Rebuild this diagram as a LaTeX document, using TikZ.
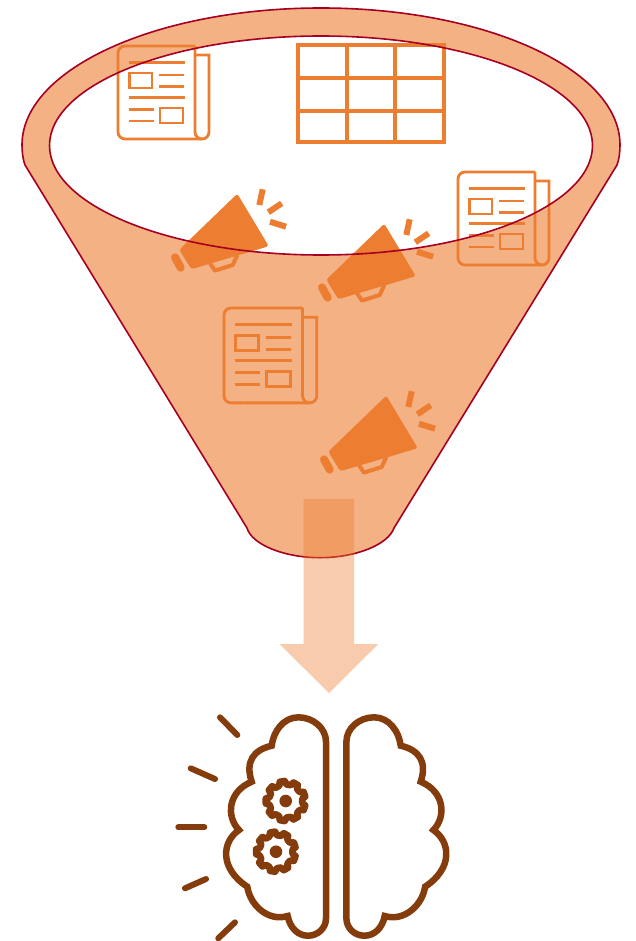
\documentclass[tikz,border=0pt]{standalone}
\usepackage{xcolor}
\definecolor{FunnelFill}{HTML}{F4B183}
\definecolor{FunnelLine}{HTML}{A50021}
\definecolor{Icon}{HTML}{ED7D31}
\definecolor{Brain}{HTML}{843C0C}
\tikzset{
  iconline/.style={draw=Icon,line width=2.8pt},
  brainline/.style={draw=Brain,line width=6.5pt,line cap=round},
  rayline/.style={Icon,line width=6pt},
  newspaper/.pic={
    \draw[iconline,rounded corners=7pt] (77,0) -- (0,0) -- (0,93) -- (20,93);
    \draw[iconline] (20,93) -- (84,93) arc[start angle=-90,end angle=0,radius=7pt] -- (91,9) -- (77,9);
    \draw[iconline] (77,0) -- (77,86) arc[start angle=180,end angle=270,radius=7pt];
    \draw[iconline] (10.5,16.5) -- (66.5,16.5);
    \draw[iconline] (11.5,27) rectangle (34,42);
    \draw[iconline] (41,29) -- (66,29);
    \draw[iconline] (41,40.7) -- (66,40.7);
    \draw[iconline] (10.5,51.5) -- (66.5,51.5);
    \draw[iconline] (10.5,63.5) -- (35.5,63.5);
    \draw[iconline] (10.5,75) -- (35.5,75);
    \draw[iconline] (42,62) rectangle (65,77);
  },
  megaphone/.pic={
    \fill[Icon,rounded corners=2.5pt] (0,-2) -- (31.5,50.5) -- (-46,73.5) -- (-58,54) -- cycle;
    \draw[Icon,line width=8pt,line cap=round] (-62.3,61.6) -- (-56.6,72);
    \draw[Icon,line width=4pt,line join=round] (-27.3,67.6) -- (-22.3,74.9) -- (-4.6,69.3) -- (0,59.3);
    \draw[rayline] (25.4,-6.4) -- (22,9.3);
    \draw[rayline] (44.4,7.6) -- (31,16.6);
    \draw[rayline] (32.7,26) -- (48.7,31);
  },
  gear/.pic={
    \fill[Brain] (0,0) circle (6.3pt);
    \draw[draw=Brain,line width=6.8pt,line join=round]
      (0:16.6pt)
      \foreach \a in {0,40,...,320} {
        -- (\a+7:16.6pt) -- (\a+13:20pt) -- (\a+27:20pt) -- (\a+33:16.6pt)
      } -- cycle;
  },
  brainhalf/.pic={
    \draw[brainline,line join=miter]
      (326,741.7) -- (326,918.3)
      .. controls (326,928) and (318,935.7) .. (308,935.7)
      .. controls (298,935.7) and (290,928) .. (287.7,916)
      .. controls (268,922) and (250,905) .. (247.3,886.7)
      .. controls (219,868) and (222,841.7) .. (239,830)
      .. controls (226,816.7) and (227.7,791.7) .. (251.7,781.7)
      .. controls (245,761.7) and (253.3,750) .. (271.7,745.7)
      .. controls (273.3,731.7) and (283.3,717.3) .. (298.3,717.3)
      .. controls (313.3,717.3) and (326,728.3) .. (326,741.7);
  },
}
\begin{document}
\begin{tikzpicture}[x=1pt,y=-1pt]
\useasboundingbox (0,0) rectangle (636,941);
% funnel body with open mouth
\fill[FunnelFill,even odd rule]
  (22,145) .. controls (22,69.3) and (156,8) .. (321,8)
  .. controls (486,8) and (620,69.3) .. (620,145)
  .. controls (620,152) and (619,160) .. (617,165)
  -- (394,528) .. controls (388,545) and (355,557.7) .. (320,557.7)
  .. controls (285,557.7) and (252,545) .. (247,528)
  -- (25,165) .. controls (23,160) and (22,152) .. (22,145) -- cycle
  (321,145.5) ellipse [x radius=271.5pt,y radius=109.5pt];
% icons
\pic at (118,46) {newspaper};
\pic at (458,172) {newspaper};
\pic[scale=1.02] at (224,308) {newspaper};
\draw[Icon,line width=3.5pt] (298,45) rectangle (444,142);
\draw[Icon,line width=3.5pt] (347,45) -- (347,142);
\draw[Icon,line width=3.5pt] (395,45) -- (395,142);
\draw[Icon,line width=3.5pt] (298,78) -- (444,78);
\draw[Icon,line width=3.5pt] (298,111) -- (444,111);
\pic at (237.3,195.7) {megaphone};
\pic at (384.3,225.7) {megaphone};
\pic at (386.3,397.7) {megaphone};
% funnel outline
\draw[FunnelLine,line width=1.6pt]
  (22,145) .. controls (22,69.3) and (156,8) .. (321,8)
  .. controls (486,8) and (620,69.3) .. (620,145)
  .. controls (620,152) and (619,160) .. (617,165)
  -- (394,528) .. controls (388,545) and (355,557.7) .. (320,557.7)
  .. controls (285,557.7) and (252,545) .. (247,528)
  -- (25,165) .. controls (23,160) and (22,152) .. (22,145) -- cycle;
\draw[FunnelLine,line width=1.6pt] (321,145.5) ellipse [x radius=271.5pt,y radius=109.5pt];
% arrow
\fill[Icon,opacity=0.4] (303.5,499) -- (354,499) -- (354,644) -- (378.3,644)
  -- (329,693) -- (279.5,644) -- (303.5,644) -- cycle;
% brain
\pic at (0,0) {brainhalf};
\pic[xshift=672.4pt,xscale=-1] at (0,0) {brainhalf};
\pic at (285.7,801) {gear};
\pic at (276,851.7) {gear};
\draw[brainline,line width=6pt] (220,717.3) -- (237.3,735);
\draw[brainline,line width=6pt] (190.7,768.3) -- (215,779);
\draw[brainline,line width=6pt] (178.3,827.3) -- (204.3,827.3);
\draw[brainline,line width=6pt] (185,888.3) -- (206,879);
\draw[brainline,line width=6pt] (218.3,938.3) -- (235,922.3);
\end{tikzpicture}
\end{document}
